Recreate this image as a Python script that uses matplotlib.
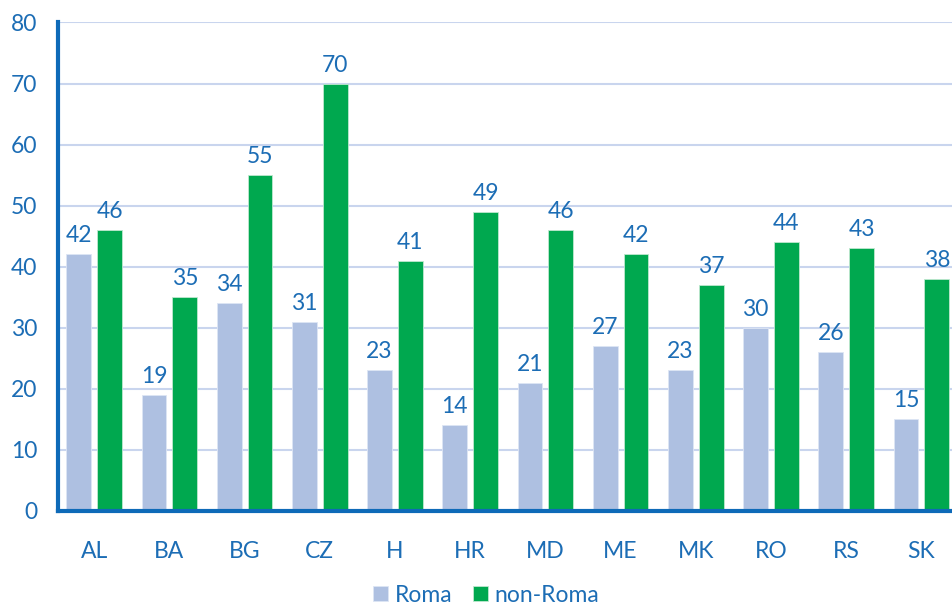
import matplotlib.pyplot as plt
import numpy as np

countries = ['AL', 'BA', 'BG', 'CZ', 'H', 'HR', 'MD', 'ME', 'MK', 'RO', 'RS', 'SK']
roma = [42, 19, 34, 31, 23, 14, 21, 27, 23, 30, 26, 15]
non_roma = [46, 35, 55, 70, 41, 49, 46, 42, 37, 44, 43, 38]

blue = '#1c6db5'
plt.rcParams['font.family'] = ['Lato', 'DejaVu Sans']

fig = plt.figure(figsize=(9.53, 6.08), dpi=100)
ax = fig.add_axes([0.061, 0.16, 0.939, 0.803])

x = np.arange(len(countries))
w = 0.33
b1 = ax.bar(x - 0.205, roma, w, color='#aec0e1', edgecolor='#dde5f4', linewidth=0.6,
            label='Roma', zorder=2)
b2 = ax.bar(x + 0.205, non_roma, w, color='#00a84f', edgecolor='#bfe8cf', linewidth=0.6,
            label='non-Roma', zorder=2)

# value labels
for bars, vals in [(b1, roma), (b2, non_roma)]:
    for r, v in zip(bars, vals):
        ax.text(r.get_x() + r.get_width() / 2, v + 1.3, str(v), ha='center', va='bottom',
                color=blue, fontsize=16.5)

ax.set_ylim(0, 80)
ax.set_xlim(-0.48, 11.42)
ax.set_yticks(range(0, 81, 10))
ax.set_xticks(x)
ax.set_xticklabels(countries)
ax.yaxis.grid(True, color='#c9d5ee', linewidth=1.5, zorder=0)
ax.set_axisbelow(True)
ax.tick_params(axis='both', length=0, colors=blue, labelsize=16.5)
ax.tick_params(axis='x', pad=22)
ax.tick_params(axis='y', pad=15)

for s in ['top', 'right']:
    ax.spines[s].set_visible(False)
ax.spines['left'].set_color('#0e6ab8')
ax.spines['left'].set_linewidth(3)
ax.spines['bottom'].set_color('#0e6ab8')
ax.spines['bottom'].set_linewidth(3)

leg = fig.legend(loc='lower center', bbox_to_anchor=(0.51, -0.03), ncol=2, frameon=False,
                 fontsize=16.5, handlelength=0.65, handleheight=0.65, handletextpad=0.3,
                 columnspacing=0.9)
for t in leg.get_texts():
    t.set_color(blue)

fig.savefig('out.png', dpi=100)
